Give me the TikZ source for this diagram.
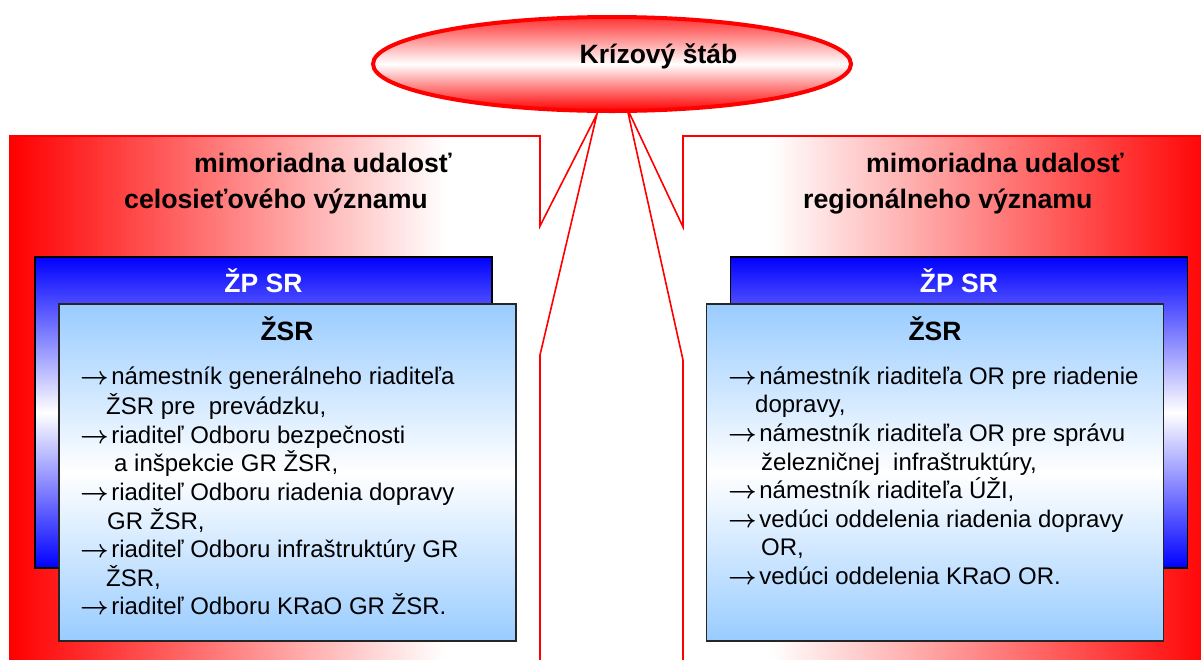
\documentclass[tikz,border=0pt]{standalone}
\usepackage{fontspec}
\setmainfont{Liberation Sans}
\usetikzlibrary{positioning,calc,shapes.geometric}
\definecolor{zsrblue}{HTML}{99CCFF}
\newcommand{\arr}{{\boldmath$\rightarrow$}\hspace{2.5pt}}

\begin{document}
\begin{tikzpicture}[
    x=1pt, y=-1pt,
    panel/.style={draw=red, line width=1.6pt, line join=miter},
    stab/.style={ellipse, draw=red, line width=4pt, minimum width=478pt, minimum height=94pt, top color=red!80, bottom color=red, middle color=white},
    zpbox/.style={draw=black, line width=1.2pt, minimum width=457pt, minimum height=311pt, top color=blue, bottom color=blue, middle color=white},
    zsrbox/.style={draw=black!85, line width=1.5pt, minimum width=457pt, minimum height=337pt, top color=zsrblue, bottom color=zsrblue, middle color=white},
    head/.style={anchor=base west, inner sep=0pt, font=\fontsize{26.7}{36}\selectfont\bfseries},
    boxtitle/.style={anchor=base, inner sep=0pt, font=\fontsize{26.5}{32}\selectfont\bfseries},
    list/.style={anchor=north west, inner sep=0pt, align=left, font=\fontsize{24}{28.6}\selectfont}
]
\useasboundingbox (0,0) rectangle (1201,659);
\clip (0,0) rectangle (1201,659);
\fill[white] (0,0) rectangle (1201,659);

% Panels with the callout tips
\begin{scope}
\clip (10,136) -- (540,136) -- (540,226) -- (597,114) -- (540,355) -- (540,670) -- (10,670) -- cycle;
\shade[left color=red, right color=white] (10,136) rectangle (445,670);
\end{scope}
\draw[panel] (10,136) -- (540,136) -- (540,226) -- (597,114) -- (540,355) -- (540,670) -- (10,670) -- cycle;

\begin{scope}
\clip (683,136) -- (1215,136) -- (1215,670) -- (683,670) -- (683,360) -- (627,108) -- (683,227) -- cycle;
\shade[left color=white, right color=red] (770,136) rectangle (1215,670);
\end{scope}
\draw[panel] (683,136) -- (1215,136) -- (1215,670) -- (683,670) -- (683,360) -- (627,108) -- (683,227) -- cycle;

% Crisis staff
\node[stab] (stab) at (612,64) {};
\node[boxtitle] (stabt) at (658.5,63) {Krízový štáb};

% Headers
\node[head] (hdrLa) at (194,172) {mimoriadna udalosť};
\node[head] (hdrLb) at (124,208) {celosieťového významu};
\node[head] (hdrRa) at (866,172) {mimoriadna udalosť};
\node[head] (hdrRb) at (803,208) {regionálneho významu};

% Boxes
\node[zpbox] (zpL) at (263.5,412.5) {};
\node[zpbox] (zpR) at (959,412.5) {};
\node[boxtitle, text=white] (zpLt) at (263.5,292) {ŽP SR};
\node[boxtitle, text=white] (zpRt) at (959,292) {ŽP SR};

\node[zsrbox] (zsrL) at (287.5,472.5) {};
\node[zsrbox] (zsrR) at (935,472.5) {};
\node[boxtitle] (zsrLt) at (287,340) {ŽSR};
\node[boxtitle] (zsrRt) at (935,340) {ŽSR};

% Lists
\node[list] (listL) at (80,364) {\strut\arr námestník generálneho riaditeľa\\
\hspace*{26pt}ŽSR pre~ prevádzku,\\
\arr riaditeľ Odboru bezpečnosti\\
\hspace*{34pt}a inšpekcie GR ŽSR,\\
\arr riaditeľ Odboru riadenia dopravy\\
\hspace*{27pt}GR ŽSR,\\
\arr riaditeľ Odboru infraštruktúry GR\\
\hspace*{26pt}ŽSR,\\
\arr riaditeľ Odboru KRaO GR ŽSR.};

\node[list] (listR) at (728,364) {\strut\arr námestník riaditeľa OR pre riadenie\\
\hspace*{27pt}dopravy,\\
\arr námestník riaditeľa OR pre správu\\
\hspace*{33pt}železničnej~ infraštruktúry,\\
\arr námestník riaditeľa ÚŽI,\\
\arr vedúci oddelenia riadenia dopravy\\
\hspace*{33pt}OR,\\
\arr vedúci oddelenia KRaO OR.};

\end{tikzpicture}
\end{document}
